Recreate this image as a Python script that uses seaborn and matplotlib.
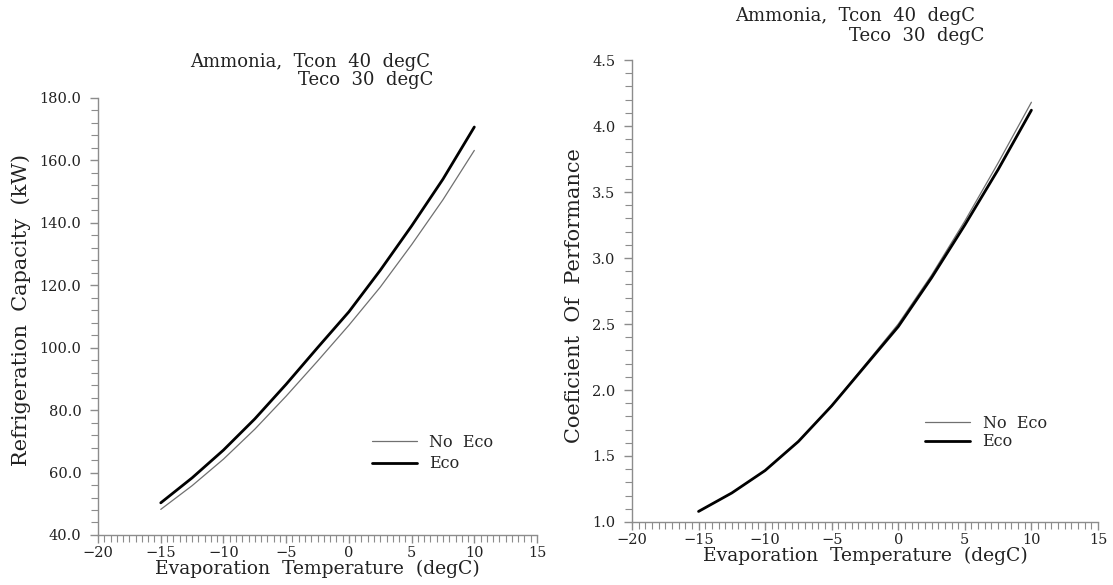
import numpy as np
import pandas as pd
import matplotlib
matplotlib.use("Agg")
import matplotlib.pyplot as plt
from matplotlib.ticker import MultipleLocator, FormatStrFormatter
import seaborn as sns

# evaporation temperature (degC)
evap_temp = [-15, -12.5, -10, -7.5, -5, -2.5, 0, 2.5, 5, 7.5, 10]

# refrigeration capacity (kW)
cap_no_eco = [48.2, 55.8, 64.3, 73.9, 84.5, 95.7, 107.2, 119.4, 133.0, 147.4, 163.2]
cap_eco = [50.3, 58.3, 67.2, 77.2, 88.3, 100.0, 111.5, 124.8, 139.0, 154.0, 170.7]

# coefficient of performance
cop_no_eco = [1.08, 1.22, 1.39, 1.61, 1.88, 2.19, 2.50, 2.87, 3.28, 3.72, 4.18]
cop_eco = [1.08, 1.22, 1.39, 1.61, 1.88, 2.18, 2.48, 2.85, 3.25, 3.67, 4.12]

# the original plot software puts wide gaps between words
series_names = ["No  Eco", "Eco"]
title_line1 = "Ammonia,  Tcon  40  degC"
title_line2 = "Teco  30  degC"

sns.set_style("ticks")
plt.rcParams["font.family"] = ["DejaVu Serif"]

AXIS_GRAY = "#8c8c8c"
TEXT_COL = "#222222"


def style_axis(ax, ymin, ymax, ymajor, yminor, yfmt):
    ax.set_xlim(-20, 15)
    ax.set_ylim(ymin, ymax)
    ax.xaxis.set_major_locator(MultipleLocator(5))
    ax.xaxis.set_minor_locator(MultipleLocator(0.5))
    ax.yaxis.set_major_locator(MultipleLocator(ymajor))
    ax.yaxis.set_minor_locator(MultipleLocator(yminor))
    ax.yaxis.set_major_formatter(FormatStrFormatter(yfmt))
    sns.despine(ax=ax)
    for side in ["left", "bottom"]:
        ax.spines[side].set_color(AXIS_GRAY)
        ax.spines[side].set_linewidth(1.0)
    ax.tick_params(which="major", direction="out", length=6, width=1.0,
                   color=AXIS_GRAY, labelsize=10.5, labelcolor=TEXT_COL, pad=2)
    ax.tick_params(axis="y", which="major", pad=6)
    ax.tick_params(which="minor", direction="out", length=5, width=0.8,
                   color=AXIS_GRAY)
    ax.set_xlabel("Evaporation  Temperature  (degC)", fontsize=13.5,
                  color=TEXT_COL, labelpad=0)


def draw(ax, y_no, y_eco):
    df_no = pd.DataFrame({"t": evap_temp, "v": y_no})
    df_eco = pd.DataFrame({"t": evap_temp, "v": y_eco})
    sns.lineplot(data=df_no, x="t", y="v", ax=ax, color="#707070",
                 linewidth=0.9, label=series_names[0])
    sns.lineplot(data=df_eco, x="t", y="v", ax=ax, color="black",
                 linewidth=2.0, label=series_names[1])


fig = plt.figure(figsize=(11.13, 5.85), dpi=100)
ax1 = fig.add_axes([0.0881, 0.0855, 0.3944, 0.747])
ax2 = fig.add_axes([0.5678, 0.1077, 0.4187, 0.7897])

# --- left: refrigeration capacity ---
draw(ax1, cap_no_eco, cap_eco)
style_axis(ax1, 40, 180, 20, 4, "%.1f")
ax1.set_ylabel("Refrigeration  Capacity  (kW)", fontsize=15, color=TEXT_COL)
ax1.yaxis.set_label_coords(-0.153, 0.515)
ax1.legend(loc="upper left", bbox_to_anchor=(0.624, 0.232), frameon=False,
           fontsize=11.5, handlelength=2.8, handletextpad=0.8, labelspacing=0.3,
           borderpad=0, borderaxespad=0)

# --- right: COP ---
draw(ax2, cop_no_eco, cop_eco)
style_axis(ax2, 1.0, 4.5, 0.5, 0.1, "%.1f")
ax2.set_ylabel("Coeficient  Of  Performance", fontsize=15, color=TEXT_COL)
ax2.yaxis.set_label_coords(-0.103, 0.49)
ax2.legend(loc="upper left", bbox_to_anchor=(0.629, 0.232), frameon=False,
           fontsize=11.5, handlelength=2.8, handletextpad=0.8, labelspacing=0.1,
           borderpad=0, borderaxespad=0)

# two-line titles, second line shifted right as in the original
fig.text(310 / 1113, 1 - 62 / 585, title_line1, ha="center", va="center",
         fontsize=13, color=TEXT_COL)
fig.text(366 / 1113, 1 - 80 / 585, title_line2, ha="center", va="center",
         fontsize=13, color=TEXT_COL)
fig.text(855 / 1113, 1 - 16 / 585, title_line1, ha="center", va="center",
         fontsize=13, color=TEXT_COL)
fig.text(917 / 1113, 1 - 36 / 585, title_line2, ha="center", va="center",
         fontsize=13, color=TEXT_COL)

fig.savefig("out.png", dpi=100, facecolor="white")
